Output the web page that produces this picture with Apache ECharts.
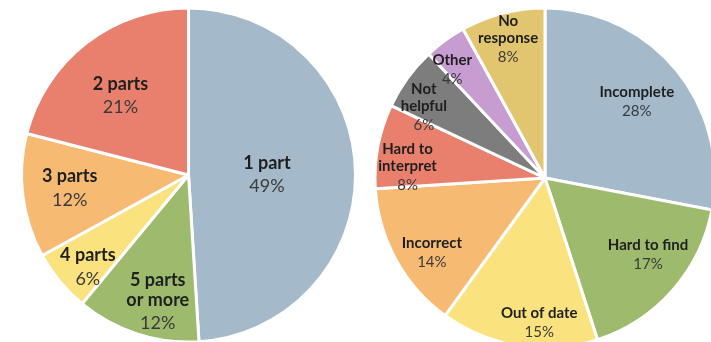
<!DOCTYPE html>
<html>
<head>
<meta charset="utf-8">
<script src="https://cdn.jsdelivr.net/npm/echarts@6/dist/echarts.min.js"></script>
<style>
  html, body { margin: 0; padding: 0; background: #ffffff; }
  #chart { width: 711px; height: 342px; }
</style>
</head>
<body>
<div id="chart"></div>
<script>
// Number of parts per response
const partsNames = ['1 part', '5 parts\nor more', '4 parts', '3 parts', '2 parts'];
const partsValues = [49, 12, 6, 12, 21];
const partsColors = ['#a4b9ca', '#9dba6d', '#fae37f', '#f6ba72', '#e9806e'];
// label nudges [dx, dy] from the default inner position
const partsNudge = [[-8, 4], [-4, 46], [-34, 39], [-33, 4], [-15, -9]];

// Reasons given
const reasonNames = ['Incomplete', 'Hard to find', 'Out of date', 'Incorrect',
  'Hard to\ninterpret', 'Not\nhelpful', 'Other', 'No\nresponse'];
const reasonValues = [28, 17, 15, 14, 8, 6, 4, 8];
const reasonColors = ['#a4b9ca', '#9dba6d', '#fae37f', '#f6ba72', '#e9806e', '#7d7d7d', '#c69cd1', '#e2c56f'];
const reasonNudge = [[24, -19], [37, 19], [8, 59], [-36, 33], [-51, 7], [-50, -18], [-41, -36], [-15, -53]];

const FONT = 'Lato, "Open Sans", sans-serif';

function makeData(names, values, colors) {
  return names.map((n, i) => ({ name: n, value: values[i], itemStyle: { color: colors[i] } }));
}

function labelDef(size, nlh, vlh) {
  return {
    show: true,
    position: 'inside',
    formatter: p => '{n|' + p.name.split('\n').join('}\n{n|') + '}\n{v|' + p.value + '%}',
    rich: {
      n: { fontFamily: FONT, fontWeight: 'bold', fontSize: size, color: '#1f1f1f', lineHeight: nlh },
      v: { fontFamily: FONT, fontWeight: 'normal', fontSize: size, color: '#3a3a3a', lineHeight: vlh }
    }
  };
}

const chart = echarts.init(document.getElementById('chart'), null, { renderer: 'canvas' });
chart.setOption({
  animation: false,
  series: [
    {
      type: 'pie',
      center: [188.5, 175],
      radius: [0, 167],
      startAngle: 90,
      clockwise: true,
      data: makeData(partsNames, partsValues, partsColors),
      itemStyle: { borderColor: '#ffffff', borderWidth: 3 },
      label: labelDef(18, 20, 27),
      labelLine: { show: false },
      labelLayout: p => ({ dx: partsNudge[p.dataIndex][0], dy: partsNudge[p.dataIndex][1] }),
      emphasis: { disabled: true }
    },
    {
      type: 'pie',
      center: [545, 178],
      radius: [0, 170],
      startAngle: 90,
      clockwise: true,
      data: makeData(reasonNames, reasonValues, reasonColors),
      itemStyle: { borderColor: '#ffffff', borderWidth: 3 },
      label: labelDef(15, 17, 21),
      labelLine: { show: false },
      labelLayout: p => ({ dx: reasonNudge[p.dataIndex][0], dy: reasonNudge[p.dataIndex][1] }),
      emphasis: { disabled: true }
    }
  ]
});
</script>
</body>
</html>
